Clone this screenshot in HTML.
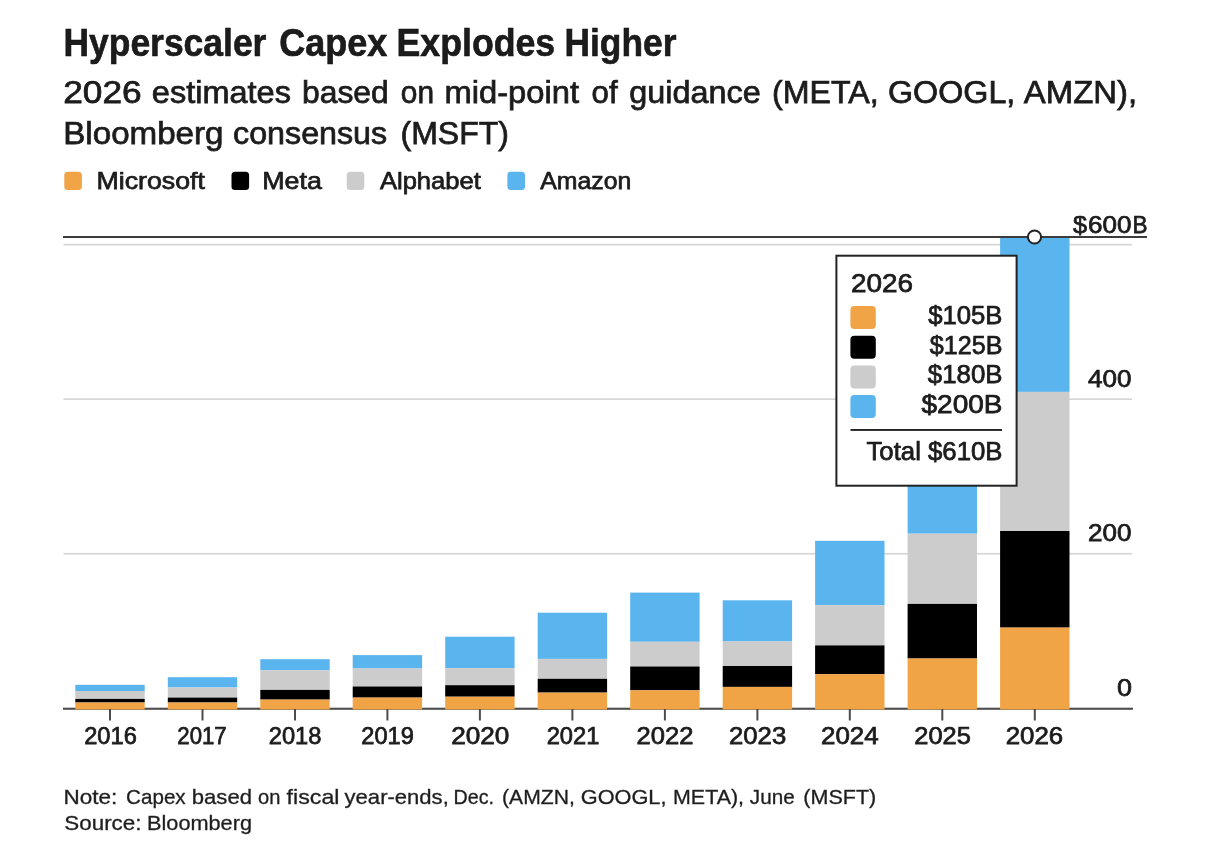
<!DOCTYPE html>
<html lang="en"><head><meta charset="utf-8"><title>Hyperscaler Capex Explodes Higher</title>
<style>html,body{margin:0;padding:0;background:#fff}body{width:1224px;height:862px;overflow:hidden}svg{display:block}text{font-family:"Liberation Sans",Arial,Helvetica,sans-serif;fill:#1c1c1c}</style></head><body>
<svg width="1224" height="862" viewBox="0 0 1224 862">
<rect width="1224" height="862" fill="#ffffff"/>
<text y="56.3" font-size="39.5" font-weight="bold" fill="#0c0c0c" stroke="#0c0c0c" stroke-width="0.60"><tspan x="63.46" textLength="202.94" lengthAdjust="spacingAndGlyphs">Hyperscaler</tspan> <tspan x="279.26" textLength="108.14" lengthAdjust="spacingAndGlyphs">Capex</tspan> <tspan x="396.46" textLength="158.78" lengthAdjust="spacingAndGlyphs">Explodes</tspan> <tspan x="564.48" textLength="111.94" lengthAdjust="spacingAndGlyphs">Higher</tspan></text>
<text y="103.3" font-size="32.0" stroke="#1c1c1c" stroke-width="0.75"><tspan x="63.24" textLength="78.52" lengthAdjust="spacingAndGlyphs">2026</tspan> <tspan x="151.80" textLength="139.14" lengthAdjust="spacingAndGlyphs">estimates</tspan> <tspan x="302.00" textLength="86.78" lengthAdjust="spacingAndGlyphs">based</tspan> <tspan x="400.80" textLength="33.20" lengthAdjust="spacingAndGlyphs">on</tspan> <tspan x="444.48" textLength="134.64" lengthAdjust="spacingAndGlyphs">mid-point</tspan> <tspan x="591.54" textLength="26.10" lengthAdjust="spacingAndGlyphs">of</tspan> <tspan x="629.30" textLength="131.40" lengthAdjust="spacingAndGlyphs">guidance</tspan> <tspan x="772.00" textLength="106.58" lengthAdjust="spacingAndGlyphs">(META,</tspan> <tspan x="888.04" textLength="127.26" lengthAdjust="spacingAndGlyphs">GOOGL,</tspan> <tspan x="1023.84" textLength="113.24" lengthAdjust="spacingAndGlyphs">AMZN),</tspan></text>
<text y="143.9" font-size="32.0" stroke="#1c1c1c" stroke-width="0.75"><tspan x="63.22" textLength="160.32" lengthAdjust="spacingAndGlyphs">Bloomberg</tspan> <tspan x="233.06" textLength="154.12" lengthAdjust="spacingAndGlyphs">consensus</tspan> <tspan x="400.48" textLength="108.50" lengthAdjust="spacingAndGlyphs">(MSFT)</tspan></text>
<rect x="64.3" y="171.8" width="17.6" height="18.2" rx="3.5" fill="#F0A445"/>
<text x="96.5" y="188.8" font-size="24.5" textLength="108.5" lengthAdjust="spacingAndGlyphs" stroke="#1c1c1c" stroke-width="0.75">Microsoft</text>
<rect x="231.5" y="171.8" width="17.6" height="18.2" rx="3.5" fill="#000000"/>
<text x="262.3" y="188.8" font-size="24.5" textLength="59.5" lengthAdjust="spacingAndGlyphs" stroke="#1c1c1c" stroke-width="0.75">Meta</text>
<rect x="346.7" y="171.8" width="17.6" height="18.2" rx="3.5" fill="#CCCCCC"/>
<text x="379.9" y="188.8" font-size="24.5" textLength="101.0" lengthAdjust="spacingAndGlyphs" stroke="#1c1c1c" stroke-width="0.75">Alphabet</text>
<rect x="507.4" y="171.8" width="17.6" height="18.2" rx="3.5" fill="#5AB4EE"/>
<text x="540.3" y="188.8" font-size="24.5" textLength="91.0" lengthAdjust="spacingAndGlyphs" stroke="#1c1c1c" stroke-width="0.75">Amazon</text>
<rect x="63.5" y="243.8" width="1068.5" height="1.7" fill="#d6d6d6"/>
<rect x="63.5" y="398.3" width="1068.5" height="1.7" fill="#d6d6d6"/>
<rect x="63.5" y="552.9" width="1068.5" height="1.7" fill="#d6d6d6"/>
<rect x="63" y="707.7" width="1070" height="2.1" fill="#4d4d4d"/>
<rect x="75.3" y="684.8" width="69.4" height="6.2" fill="#5AB4EE"/>
<rect x="75.3" y="691.0" width="69.4" height="7.9" fill="#CCCCCC"/>
<rect x="75.3" y="698.9" width="69.4" height="3.6" fill="#000000"/>
<rect x="75.3" y="702.5" width="69.4" height="7.0" fill="#F0A445"/>
<rect x="109.0" y="709" width="2" height="11.5" fill="#4d4d4d"/>
<text x="110.5" y="744.0" font-size="24.0" textLength="52.6" lengthAdjust="spacingAndGlyphs" text-anchor="middle" stroke="#1c1c1c" stroke-width="0.75">2016</text>
<rect x="167.8" y="677.2" width="69.4" height="10.3" fill="#5AB4EE"/>
<rect x="167.8" y="687.5" width="69.4" height="10.1" fill="#CCCCCC"/>
<rect x="167.8" y="697.6" width="69.4" height="4.9" fill="#000000"/>
<rect x="167.8" y="702.5" width="69.4" height="7.0" fill="#F0A445"/>
<rect x="201.5" y="709" width="2" height="11.5" fill="#4d4d4d"/>
<text x="202.0" y="744.0" font-size="24.0" textLength="49.4" lengthAdjust="spacingAndGlyphs" text-anchor="middle" stroke="#1c1c1c" stroke-width="0.75">2017</text>
<rect x="260.3" y="659.2" width="69.4" height="11.1" fill="#5AB4EE"/>
<rect x="260.3" y="670.3" width="69.4" height="19.6" fill="#CCCCCC"/>
<rect x="260.3" y="689.9" width="69.4" height="9.7" fill="#000000"/>
<rect x="260.3" y="699.6" width="69.4" height="9.9" fill="#F0A445"/>
<rect x="294.0" y="709" width="2" height="11.5" fill="#4d4d4d"/>
<text x="295.1" y="744.0" font-size="24.0" textLength="52.7" lengthAdjust="spacingAndGlyphs" text-anchor="middle" stroke="#1c1c1c" stroke-width="0.75">2018</text>
<rect x="352.7" y="655.1" width="69.4" height="13.4" fill="#5AB4EE"/>
<rect x="352.7" y="668.5" width="69.4" height="18.0" fill="#CCCCCC"/>
<rect x="352.7" y="686.5" width="69.4" height="11.1" fill="#000000"/>
<rect x="352.7" y="697.6" width="69.4" height="11.9" fill="#F0A445"/>
<rect x="386.4" y="709" width="2" height="11.5" fill="#4d4d4d"/>
<text x="387.6" y="744.0" font-size="24.0" textLength="52.6" lengthAdjust="spacingAndGlyphs" text-anchor="middle" stroke="#1c1c1c" stroke-width="0.75">2019</text>
<rect x="445.2" y="636.7" width="69.4" height="31.4" fill="#5AB4EE"/>
<rect x="445.2" y="668.1" width="69.4" height="17.1" fill="#CCCCCC"/>
<rect x="445.2" y="685.2" width="69.4" height="11.5" fill="#000000"/>
<rect x="445.2" y="696.7" width="69.4" height="12.8" fill="#F0A445"/>
<rect x="478.9" y="709" width="2" height="11.5" fill="#4d4d4d"/>
<text x="480.3" y="744.0" font-size="24.0" textLength="58.2" lengthAdjust="spacingAndGlyphs" text-anchor="middle" stroke="#1c1c1c" stroke-width="0.75">2020</text>
<rect x="537.7" y="612.7" width="69.4" height="46.2" fill="#5AB4EE"/>
<rect x="537.7" y="658.9" width="69.4" height="19.9" fill="#CCCCCC"/>
<rect x="537.7" y="678.8" width="69.4" height="13.8" fill="#000000"/>
<rect x="537.7" y="692.6" width="69.4" height="16.9" fill="#F0A445"/>
<rect x="571.4" y="709" width="2" height="11.5" fill="#4d4d4d"/>
<text x="573.0" y="744.0" font-size="24.0" textLength="52.7" lengthAdjust="spacingAndGlyphs" text-anchor="middle" stroke="#1c1c1c" stroke-width="0.75">2021</text>
<rect x="630.2" y="592.6" width="69.4" height="49.2" fill="#5AB4EE"/>
<rect x="630.2" y="641.8" width="69.4" height="24.7" fill="#CCCCCC"/>
<rect x="630.2" y="666.5" width="69.4" height="23.8" fill="#000000"/>
<rect x="630.2" y="690.3" width="69.4" height="19.2" fill="#F0A445"/>
<rect x="663.9" y="709" width="2" height="11.5" fill="#4d4d4d"/>
<text x="665.0" y="744.0" font-size="24.0" textLength="56.9" lengthAdjust="spacingAndGlyphs" text-anchor="middle" stroke="#1c1c1c" stroke-width="0.75">2022</text>
<rect x="722.7" y="600.3" width="69.4" height="41.2" fill="#5AB4EE"/>
<rect x="722.7" y="641.5" width="69.4" height="24.5" fill="#CCCCCC"/>
<rect x="722.7" y="666.0" width="69.4" height="20.9" fill="#000000"/>
<rect x="722.7" y="686.9" width="69.4" height="22.6" fill="#F0A445"/>
<rect x="756.4" y="709" width="2" height="11.5" fill="#4d4d4d"/>
<text x="757.6" y="744.0" font-size="24.0" textLength="57.2" lengthAdjust="spacingAndGlyphs" text-anchor="middle" stroke="#1c1c1c" stroke-width="0.75">2023</text>
<rect x="815.1" y="540.8" width="69.4" height="64.4" fill="#5AB4EE"/>
<rect x="815.1" y="605.2" width="69.4" height="40.2" fill="#CCCCCC"/>
<rect x="815.1" y="645.4" width="69.4" height="28.8" fill="#000000"/>
<rect x="815.1" y="674.2" width="69.4" height="35.3" fill="#F0A445"/>
<rect x="848.8" y="709" width="2" height="11.5" fill="#4d4d4d"/>
<text x="849.8" y="744.0" font-size="24.0" textLength="57.6" lengthAdjust="spacingAndGlyphs" text-anchor="middle" stroke="#1c1c1c" stroke-width="0.75">2024</text>
<rect x="907.6" y="432.0" width="69.4" height="101.7" fill="#5AB4EE"/>
<rect x="907.6" y="533.7" width="69.4" height="70.2" fill="#CCCCCC"/>
<rect x="907.6" y="603.9" width="69.4" height="54.6" fill="#000000"/>
<rect x="907.6" y="658.5" width="69.4" height="51.0" fill="#F0A445"/>
<rect x="941.3" y="709" width="2" height="11.5" fill="#4d4d4d"/>
<text x="942.5" y="744.0" font-size="24.0" textLength="56.5" lengthAdjust="spacingAndGlyphs" text-anchor="middle" stroke="#1c1c1c" stroke-width="0.75">2025</text>
<rect x="1000.1" y="237.0" width="69.4" height="154.9" fill="#5AB4EE"/>
<rect x="1000.1" y="391.9" width="69.4" height="139.1" fill="#CCCCCC"/>
<rect x="1000.1" y="531.0" width="69.4" height="96.6" fill="#000000"/>
<rect x="1000.1" y="627.6" width="69.4" height="81.9" fill="#F0A445"/>
<rect x="1033.8" y="709" width="2" height="11.5" fill="#4d4d4d"/>
<text x="1034.4" y="744.0" font-size="24.0" textLength="57.5" lengthAdjust="spacingAndGlyphs" text-anchor="middle" stroke="#1c1c1c" stroke-width="0.75">2026</text>
<rect x="63" y="236" width="1084" height="2" fill="#3c3c3c"/>
<text y="232.7" font-size="24" stroke="#1c1c1c" stroke-width="0.75"><tspan x="1073" textLength="14" lengthAdjust="spacingAndGlyphs">$</tspan><tspan x="1088" textLength="43.5" lengthAdjust="spacingAndGlyphs">600</tspan><tspan x="1132.5" textLength="15" lengthAdjust="spacingAndGlyphs">B</tspan></text>
<text x="1088.0" y="386.7" font-size="24.0" textLength="43.5" lengthAdjust="spacingAndGlyphs" stroke="#1c1c1c" stroke-width="0.75">400</text>
<text x="1088.0" y="540.9" font-size="24.0" textLength="43.5" lengthAdjust="spacingAndGlyphs" stroke="#1c1c1c" stroke-width="0.75">200</text>
<text x="1117.0" y="695.6" font-size="24.0" textLength="15.0" lengthAdjust="spacingAndGlyphs" stroke="#1c1c1c" stroke-width="0.75">0</text>
<rect x="836.4" y="255.7" width="180.2" height="230" fill="#fff" stroke="#222" stroke-width="2"/>
<text x="851.0" y="291.7" font-size="25.5" textLength="62.0" lengthAdjust="spacingAndGlyphs" stroke="#1c1c1c" stroke-width="0.75">2026</text>
<rect x="850.4" y="306.0" width="25.4" height="23.0" rx="4.0" fill="#F0A445"/>
<text x="1002.5" y="324.3" font-size="25.5" textLength="74.3" lengthAdjust="spacingAndGlyphs" text-anchor="end" stroke="#1c1c1c" stroke-width="0.75">$105B</text>
<rect x="850.4" y="335.7" width="25.4" height="23.0" rx="4.0" fill="#000000"/>
<text x="1002.5" y="353.8" font-size="25.5" textLength="72.7" lengthAdjust="spacingAndGlyphs" text-anchor="end" stroke="#1c1c1c" stroke-width="0.75">$125B</text>
<rect x="850.4" y="365.4" width="25.4" height="23.0" rx="4.0" fill="#CCCCCC"/>
<text x="1002.5" y="383.3" font-size="25.5" textLength="74.7" lengthAdjust="spacingAndGlyphs" text-anchor="end" stroke="#1c1c1c" stroke-width="0.75">$180B</text>
<rect x="850.4" y="395.1" width="25.4" height="23.0" rx="4.0" fill="#5AB4EE"/>
<text x="1002.5" y="412.8" font-size="25.5" textLength="81.0" lengthAdjust="spacingAndGlyphs" text-anchor="end" stroke="#1c1c1c" stroke-width="0.75">$200B</text>
<rect x="850.5" y="429.0" width="151.5" height="1.9" fill="#222"/>
<text x="1002.5" y="460.1" font-size="25.5" textLength="136.0" lengthAdjust="spacingAndGlyphs" text-anchor="end" stroke="#1c1c1c" stroke-width="0.75">Total $610B</text>
<circle cx="1034.5" cy="237" r="6.6" fill="#fff" stroke="#222" stroke-width="2"/>
<text y="804.2" font-size="21.0" fill="#303030" stroke="#303030" stroke-width="0.35"><tspan x="63.50" textLength="53.74" lengthAdjust="spacingAndGlyphs">Note:</tspan> <tspan x="126.04" textLength="59.64" lengthAdjust="spacingAndGlyphs">Capex</tspan> <tspan x="191.76" textLength="60.24" lengthAdjust="spacingAndGlyphs">based</tspan> <tspan x="258.08" textLength="22.38" lengthAdjust="spacingAndGlyphs">on</tspan> <tspan x="286.60" textLength="52.90" lengthAdjust="spacingAndGlyphs">fiscal</tspan> <tspan x="344.58" textLength="104.18" lengthAdjust="spacingAndGlyphs">year-ends,</tspan> <tspan x="453.52" textLength="40.50" lengthAdjust="spacingAndGlyphs">Dec.</tspan> <tspan x="502.02" textLength="72.74" lengthAdjust="spacingAndGlyphs">(AMZN,</tspan> <tspan x="580.80" textLength="85.70" lengthAdjust="spacingAndGlyphs">GOOGL,</tspan> <tspan x="673.02" textLength="71.00" lengthAdjust="spacingAndGlyphs">META),</tspan> <tspan x="749.84" textLength="44.86" lengthAdjust="spacingAndGlyphs">June</tspan> <tspan x="803.30" textLength="72.92" lengthAdjust="spacingAndGlyphs">(MSFT)</tspan></text>
<text y="829.7" font-size="21.0" fill="#303030" stroke="#303030" stroke-width="0.35"><tspan x="64.30" textLength="77.20" lengthAdjust="spacingAndGlyphs">Source:</tspan> <tspan x="147.02" textLength="104.98" lengthAdjust="spacingAndGlyphs">Bloomberg</tspan></text>
</svg></body></html>
